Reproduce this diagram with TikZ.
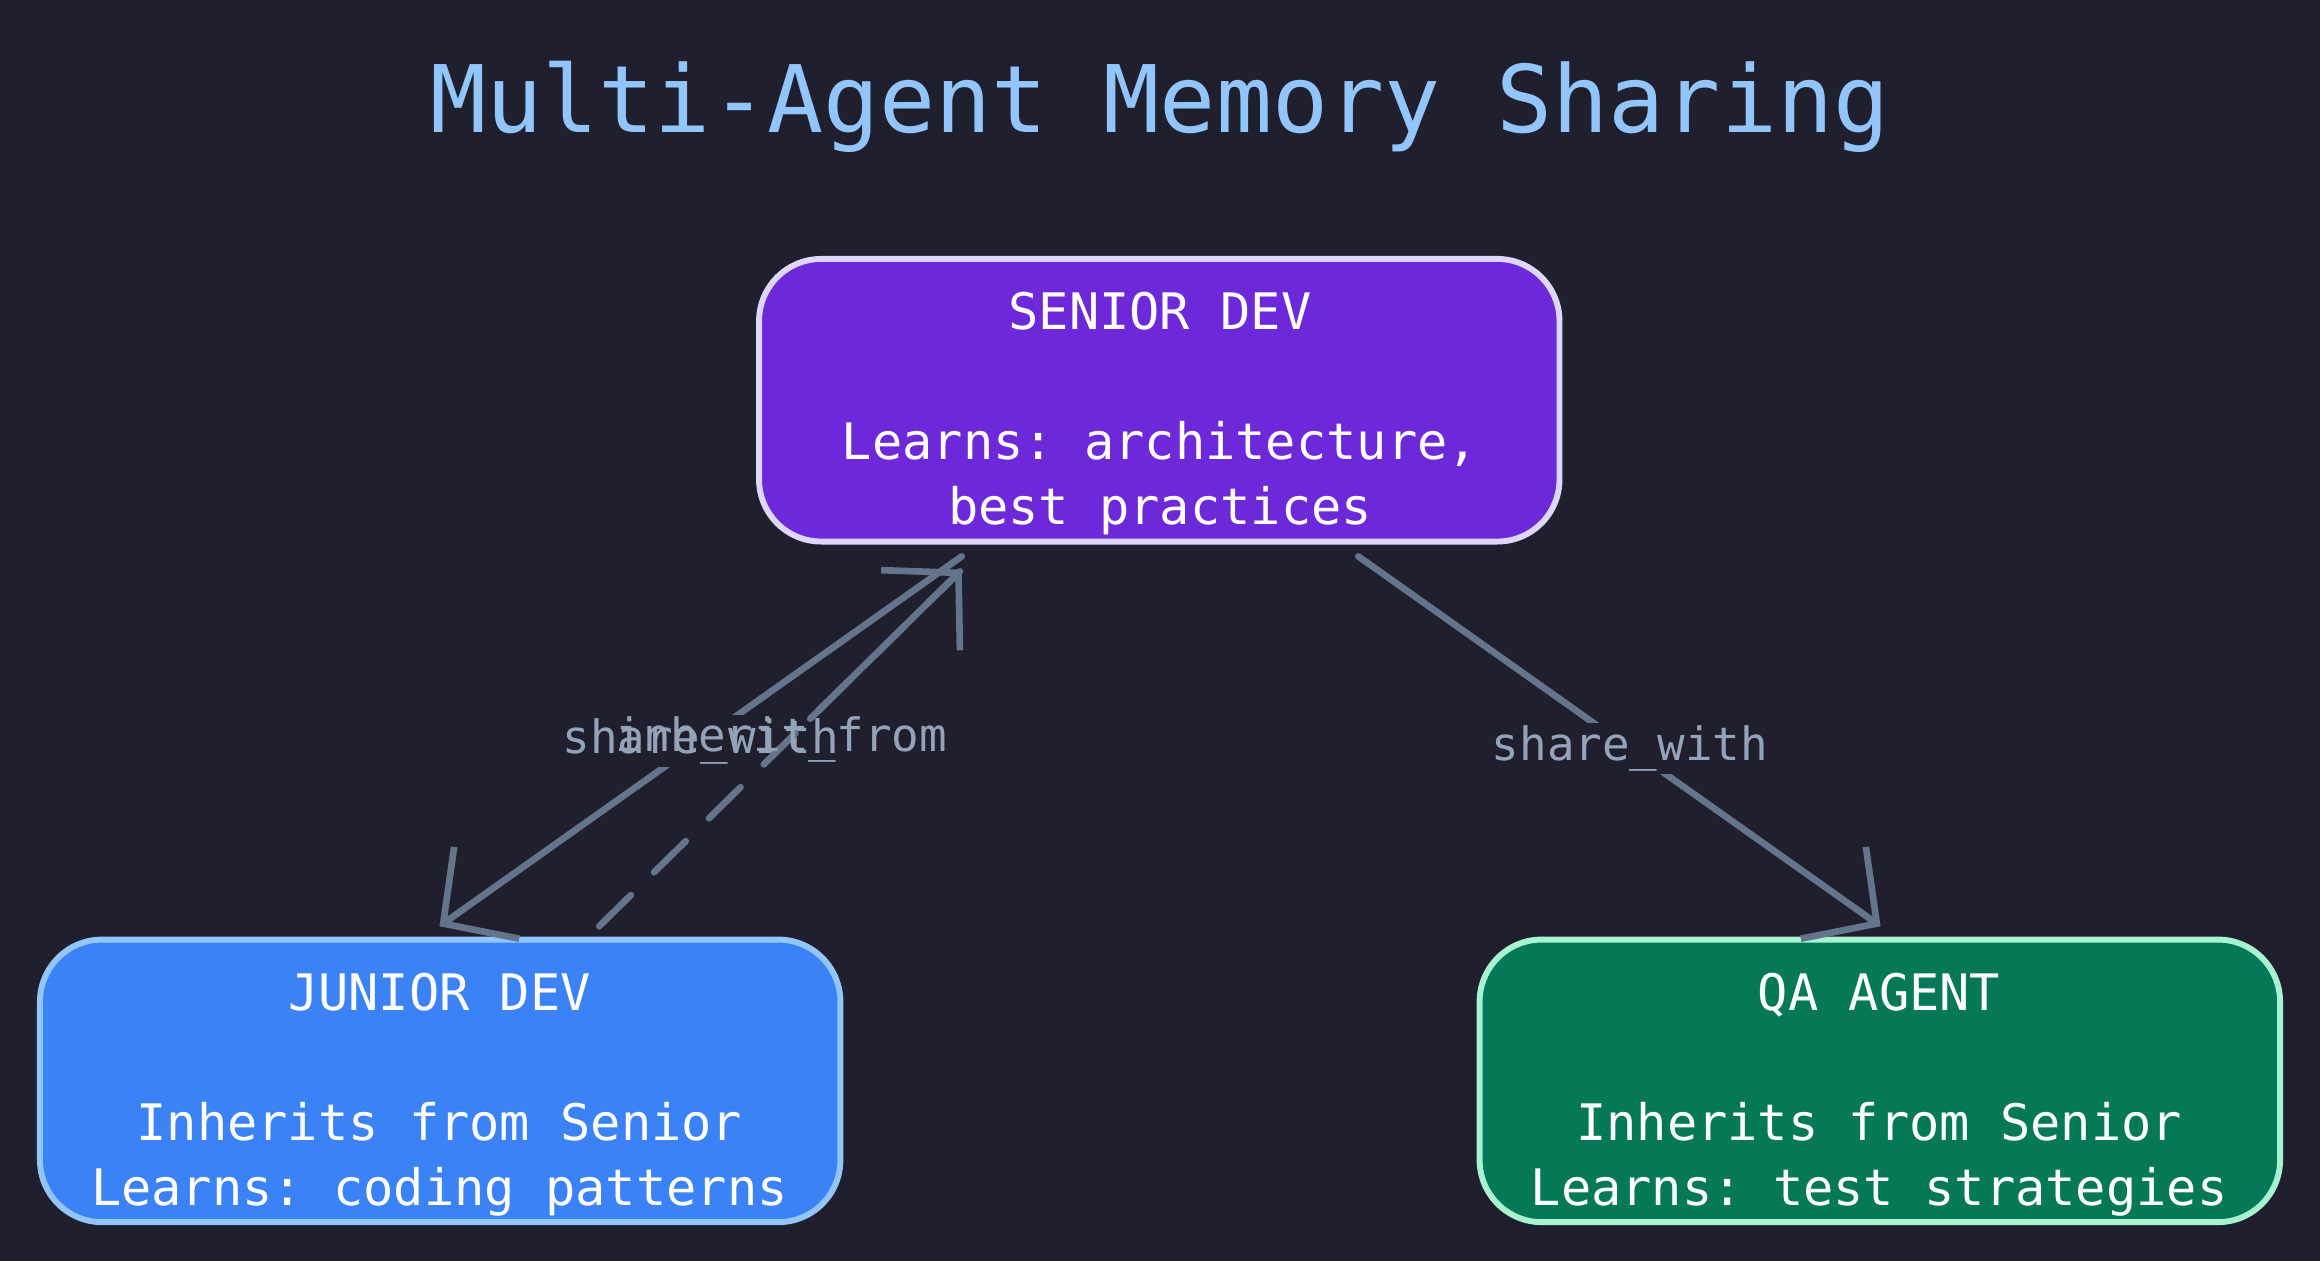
\documentclass[tikz,border=0pt]{standalone}
\usepackage{fontspec}
\setmonofont{DejaVu Sans Mono}
\usetikzlibrary{arrows.meta}
\definecolor{bg}{HTML}{1F1F2E}
\definecolor{edge}{HTML}{64748B}
\definecolor{lbl}{HTML}{94A3B8}
\begin{document}
\begin{tikzpicture}[x=1pt,y=-1pt,
  box/.style={draw,line width=4pt,rounded corners=42pt,minimum width=541pt,minimum height=191pt,inner sep=0pt},
  btxt/.style={text=white,font=\ttfamily\fontsize{34}{44}\selectfont,align=center},
  con/.style={draw=edge,line width=4.5pt,line cap=round,-{Straight Barb[length=36pt,width=76pt,line width=4.5pt]}},
  lab/.style={fill=bg,text=lbl,font=\ttfamily\fontsize{31}{36}\selectfont,inner sep=2pt}]
\fill[bg] (0,0) rectangle (1568,852);
\useasboundingbox (0,0) rectangle (1568,852);
\node[text={rgb,255:red,147;green,197;blue,253},font=\ttfamily\fontsize{63}{70}\selectfont] (title) at (784,72) {Multi-Agent Memory Sharing};
\node[box,fill={rgb,255:red,109;green,40;blue,217},draw={rgb,255:red,221;green,214;blue,254}] (s) at (783.5,270.5) {};
\node[btxt,anchor=north] (st) at (784,194) {SENIOR DEV\\[44pt]Learns: architecture,\\best practices};
\node[box,fill={rgb,255:red,59;green,130;blue,246},draw={rgb,255:red,147;green,197;blue,253}] (j) at (297.5,730.5) {};
\node[btxt,anchor=north] (jt) at (297,654) {JUNIOR DEV\\[44pt]Inherits from Senior\\Learns: coding patterns};
\node[box,fill={rgb,255:red,4;green,120;blue,87},draw={rgb,255:red,167;green,243;blue,208}] (q) at (1270.5,730.5) {};
\node[btxt,anchor=north] (qt) at (1270,654) {QA AGENT\\[44pt]Inherits from Senior\\Learns: test strategies};
\coordinate (s1) at (650,376); \coordinate (j1) at (297,626);
\coordinate (j2) at (405,626); \coordinate (s2) at (650,385);
\coordinate (s3) at (918,376); \coordinate (q1) at (1271,626);
\draw[con] (s1) -- node[lab,pos=0.5] (l1) {share\_with} (j1);
\draw[con] (s3) -- node[lab,pos=0.52] (l3) {share\_with} (q1);
\draw[con,dash pattern=on 30pt off 22pt,-] (j2) -- (s2);
\draw[con,shorten <=200pt] (j2) -- (s2);
\node[text=lbl,font=\ttfamily\fontsize{31}{36}\selectfont] (l2) at (528,500) {inherit\_from};
\end{tikzpicture}
\end{document}
